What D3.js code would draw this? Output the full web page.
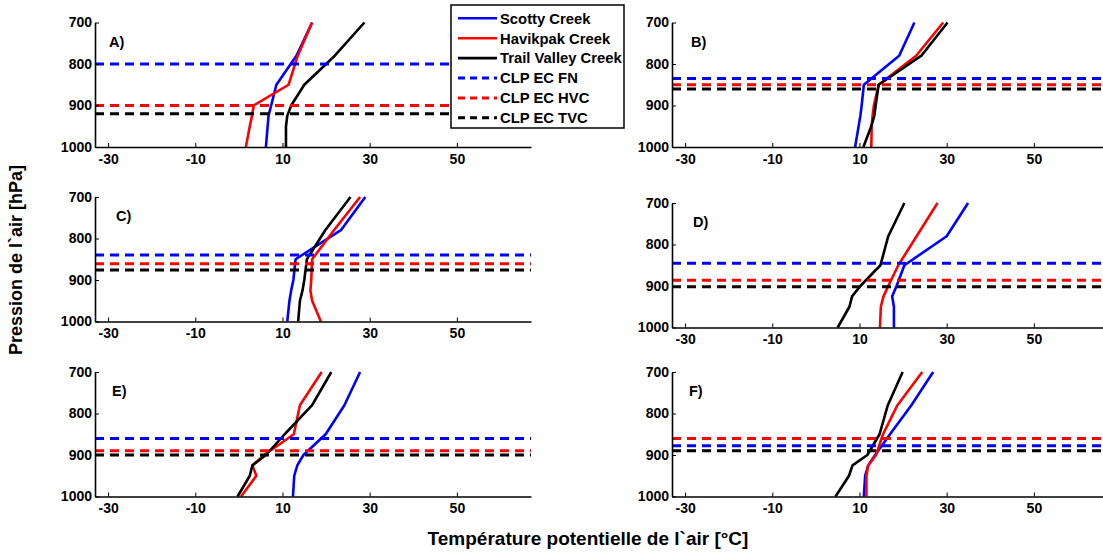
<!DOCTYPE html>
<html>
<head>
<meta charset="utf-8">
<script src="https://cdn.jsdelivr.net/npm/d3@7"></script>
<style>
  body { margin: 0; background: #fff; }
  text { font-family: "Liberation Sans", Arial, sans-serif; font-weight: bold; }
</style>
</head>
<body>
<script>
// pressure levels shared by every profile (hPa)
var levels = [1000, 950, 925, 900, 850, 780, 700];
var panelNames = ["A)", "B)", "C)", "D)", "E)", "F)"];
var xTicks = [-30, -10, 10, 30, 50];
var yTicks = [700, 800, 900, 1000];

// potential temperature profiles, one row per panel
var scotty = [
  [6.2, 6.6, 6.8, 7.4, 8.6, 13.2, 16.8],
  [9.0, 9.8, 10.2, 10.5, 11.0, 19.1, 22.6],
  [11.1, 11.6, 12.0, 12.5, 13.0, 23.4, 29.0],
  [17.9, 17.9, 17.5, 18.5, 20.3, 30.0, 34.9],
  [12.4, 12.7, 13.4, 14.8, 19.9, 24.2, 27.8],
  [11.0, 11.3, 12.0, 13.6, 17.0, 21.9, 26.9]
];
var havikpak = [
  [1.6, 2.5, 3.0, 3.4, 11.4, 13.5, 16.8],
  [12.7, 12.8, 13.0, 13.3, 14.4, 23.0, 29.2],
  [18.8, 16.8, 16.4, 16.6, 16.8, 21.8, 27.8],
  [14.7, 14.9, 15.5, 16.6, 18.9, 23.1, 27.9],
  [0.5, 4.0, 3.1, 5.8, 12.6, 14.0, 19.0],
  [11.6, 11.6, 12.0, 13.8, 15.4, 18.7, 24.4]
];
var trail = [
  [10.8, 10.8, 11.1, 12.0, 15.0, 22.0, 28.8],
  [10.9, 12.7, 13.4, 13.7, 14.4, 24.2, 30.2],
  [13.6, 14.0, 14.6, 15.0, 15.6, 19.8, 25.6],
  [5.0, 7.7, 8.3, 10.2, 14.8, 16.6, 20.3],
  [-0.3, 2.5, 3.1, 6.2, 10.5, 16.8, 21.2],
  [4.5, 7.6, 8.4, 11.8, 14.6, 16.5, 19.9]
];

// convective boundary layer heights (hPa)
var clpFN  = [800, 835, 840, 845, 860, 878];
var clpHVC = [900, 850, 861, 886, 890, 860];
var clpTVC = [920, 860, 876, 902, 900, 890];

var legendNames = ["Scotty Creek", "Havikpak Creek", "Trail Valley Creek", "CLP EC FN", "CLP EC HVC", "CLP EC TVC"];
var colors = ["#0000ff", "#ff0000", "#000000"];

var W = 1103, H = 554;
var svg = d3.select("body").append("svg")
    .attr("width", W)
    .attr("height", H);

// subplot boxes (the right column runs past the figure edge)
var colX = [95, 672];
var plotW = 436;
var rowTop = [[22.5, 22.5], [197, 203], [372, 372]];
var panelH = 124.5;
var labelDx = [14, 19, 21, 21, 17, 17];

var line = d3.line();
var plain = function (d) { return String(d); };

panelNames.forEach(function (name, i) {
    var c = i % 2, r = Math.floor(i / 2);
    var x0 = colX[c], top = rowTop[r][c];

    var x = d3.scaleLinear()
        .domain([-33, 67])
        .range([x0, x0 + plotW]);
    var y = d3.scaleLinear()
        .domain([700, 1000])
        .range([top, top + panelH]);

    var g = svg.append("g");

    // profiles
    [scotty, havikpak, trail].forEach(function (s, k) {
        var pts = levels.map(function (p, j) { return [x(s[i][j]), y(p)]; });
        g.append("path")
            .attr("d", line(pts))
            .attr("fill", "none")
            .attr("stroke", colors[k])
            .attr("stroke-width", 2.6)
            .attr("stroke-linejoin", "round");
    });

    // CLP heights
    [clpFN, clpHVC, clpTVC].forEach(function (s, k) {
        g.append("line")
            .attr("x1", x0)
            .attr("x2", x(67))
            .attr("y1", y(s[i]))
            .attr("y2", y(s[i]))
            .attr("stroke", colors[k])
            .attr("stroke-width", 3)
            .attr("stroke-dasharray", "9,6");
    });

    var xAxis = d3.axisBottom(x).tickValues(xTicks).tickFormat(plain)
        .tickSizeInner(-4).tickSizeOuter(0).tickPadding(7);
    var yAxis = d3.axisLeft(y).tickValues(yTicks).tickFormat(plain)
        .tickSizeInner(-4).tickSizeOuter(0).tickPadding(3);

    var gx = g.append("g")
        .attr("transform", "translate(0," + (top + panelH) + ")")
        .call(xAxis);
    var gy = g.append("g")
        .attr("transform", "translate(" + x0 + ",0)")
        .call(yAxis);

    [gx, gy].forEach(function (a) {
        a.select(".domain").attr("stroke-width", 1.6);
        a.selectAll(".tick line").attr("stroke-width", 1);
        a.selectAll("text")
            .style("font-size", "14px")
            .style("font-weight", "bold")
            .attr("fill", "#000");
    });

    g.append("text")
        .attr("x", x0 + labelDx[i])
        .attr("y", top + 24)
        .style("font-size", "14.5px")
        .text(name);
});

// legend
var lg = svg.append("g");
lg.append("rect")
    .attr("x", 451).attr("y", 5)
    .attr("width", 173).attr("height", 123)
    .attr("fill", "#fff")
    .attr("stroke", "#000")
    .attr("stroke-width", 1.5);
legendNames.forEach(function (n, k) {
    var yy = 18.3 + k * 19.9;
    lg.append("line")
        .attr("x1", 458).attr("x2", 497)
        .attr("y1", yy).attr("y2", yy)
        .attr("stroke", colors[k % 3])
        .attr("stroke-width", k < 3 ? 2.6 : 3)
        .attr("stroke-dasharray", k < 3 ? null : "7,5");
    lg.append("text")
        .attr("x", 500)
        .attr("y", yy + 5.3)
        .style("font-size", "14.8px")
        .text(n);
});

// axis titles
svg.append("text")
    .attr("transform", "translate(22,260) rotate(-90)")
    .attr("text-anchor", "middle")
    .style("font-size", "18px")
    .text("Pression de l`air [hPa]");

svg.append("text")
    .attr("x", 588)
    .attr("y", 545)
    .attr("text-anchor", "middle")
    .style("font-size", "19px")
    .text("Température potentielle de l`air [°C]");
</script>
</body>
</html>
